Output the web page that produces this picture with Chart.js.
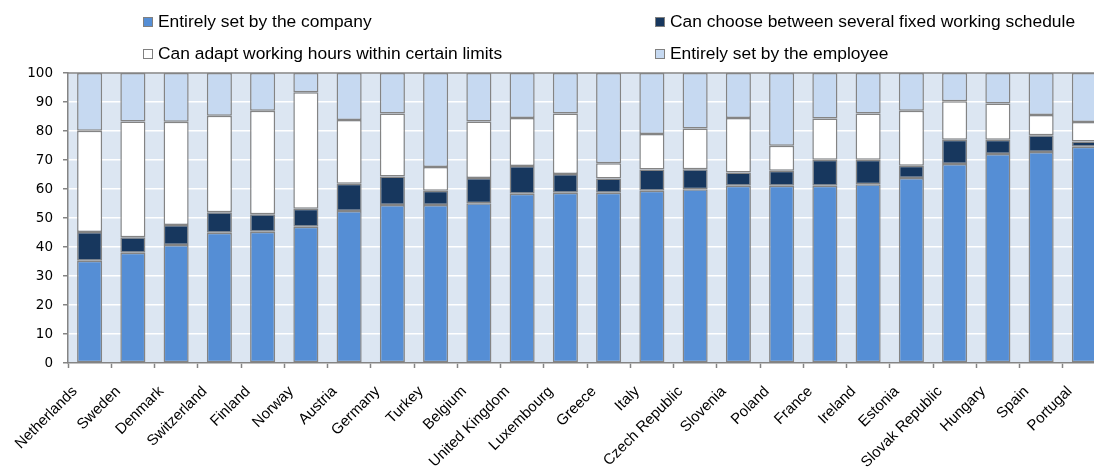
<!DOCTYPE html>
<html>
<head>
<meta charset="utf-8">
<script src="https://cdn.jsdelivr.net/npm/chart.js@4/dist/chart.umd.min.js"></script>
<style>
  html, body { margin: 0; padding: 0; background: #fff; overflow: hidden; width: 1094px; height: 468px; }
  #wrap { position: relative; width: 1108px; height: 468px; }
  #legend { position: absolute; left: 0; top: 0; width: 1094px; height: 70px; font-family: "Liberation Sans", Arial, sans-serif; font-size: 17.4px; color: #000; }
  .item { position: absolute; white-space: nowrap; line-height: 20px; }
  .box { display: inline-block; width: 8px; height: 8px; border: 1px solid #808080; margin-right: 5px; vertical-align: 0px; }
</style>
</head>
<body>
<div id="wrap">
  <canvas id="myChart"></canvas>
  <div id="legend"></div>
</div>
<script>
const countries = ['Netherlands', 'Sweden', 'Denmark', 'Switzerland', 'Finland', 'Norway', 'Austria', 'Germany',
  'Turkey', 'Belgium', 'United Kingdom', 'Luxembourg', 'Greece', 'Italy', 'Czech Republic', 'Slovenia',
  'Poland', 'France', 'Ireland', 'Estonia', 'Slovak Republic', 'Hungary', 'Spain', 'Portugal'];

const seriesNames = ['Entirely set by the company', 'Can choose between several fixed working schedule',
  'Can adapt working hours within certain limits', 'Entirely set by the employee'];

const company  = [35.3, 38.0, 40.7, 44.9, 45.3, 47.0, 52.4, 54.5, 54.5, 55.1, 58.4, 58.7, 58.7, 59.4, 59.9, 61.1, 61.1, 61.1, 61.6, 63.8, 68.6, 72.1, 72.8, 74.6];
const fixed    = [9.9, 5.4, 6.9, 7.1, 6.0, 6.2, 9.4, 9.8, 4.9, 8.7, 9.5, 6.5, 4.9, 7.3, 6.9, 4.6, 5.2, 9.0, 8.5, 4.2, 8.4, 4.9, 5.7, 1.8];
const adapt    = [34.9, 39.9, 35.6, 33.3, 35.7, 40.2, 22.0, 21.7, 8.2, 19.5, 16.6, 20.8, 5.3, 12.3, 14.1, 18.8, 8.6, 14.2, 15.9, 19.0, 13.3, 12.5, 7.0, 6.7];
const employee = [19.9, 16.7, 16.8, 14.7, 13.0, 6.6, 16.2, 14.0, 32.4, 16.7, 15.5, 14.0, 31.1, 21.0, 19.1, 15.5, 25.1, 15.7, 14.0, 13.0, 9.7, 10.5, 14.5, 16.9];

const yTicks = [0, 10, 20, 30, 40, 50, 60, 70, 80, 90, 100];

const colors = ['#558ED5', '#17375E', '#FFFFFF', '#C6D9F1'];
const edge = '#848484';

// legend: two columns, two rows
const legendPos = [[143, 11], [655, 11], [143, 43], [655, 43]];
const legendEl = document.getElementById('legend');
seriesNames.forEach((name, i) => {
  const d = document.createElement('div');
  d.className = 'item';
  d.style.left = legendPos[i][0] + 'px';
  d.style.top = legendPos[i][1] + 'px';
  d.innerHTML = '<span class="box" style="background:' + colors[i] + '"></span>' + name;
  legendEl.appendChild(d);
});

// fond bleu clair de la zone de tracé + trait du haut
const plotBg = {
  id: 'plotBg',
  beforeDraw(chart) {
    const a = chart.chartArea;
    const c = chart.ctx;
    c.save();
    c.fillStyle = '#DCE6F2';
    c.fillRect(a.left, a.top, a.right - a.left, a.bottom - a.top);
    c.restore();
  },
  afterDraw(chart) {
    const a = chart.chartArea;
    const c = chart.ctx;
    c.save();
    c.strokeStyle = edge;
    c.lineWidth = 1.5;
    c.beginPath();
    c.moveTo(a.left, a.top);
    c.lineTo(a.right, a.top);
    c.stroke();
    c.restore();
  }
};

const datasets = [company, fixed, adapt, employee].map((vals, i) => ({
  label: seriesNames[i],
  data: vals,
  backgroundColor: colors[i],
  borderColor: edge,
  borderWidth: 1.5,
  borderSkipped: false,
  categoryPercentage: 1,
  barPercentage: 0.58
}));

const ctx = document.getElementById('myChart').getContext('2d');
const myChart = new Chart(ctx, {
  type: 'bar',
  data: { labels: countries, datasets: datasets },
  options: {
    responsive: true,
    maintainAspectRatio: false,
    animation: false,
    layout: { padding: { top: 73, right: 2, left: 0, bottom: 0 } },
    plugins: {
      legend: { display: false },
      tooltip: { enabled: false }
    },
    scales: {
      x: {
        stacked: true,
        offset: true,
        grid: { display: true, drawOnChartArea: false, offset: true, tickLength: 5, tickColor: edge, tickWidth: 1.5 },
        border: { color: edge, width: 1.5 },
        ticks: {
          autoSkip: false,
          minRotation: 45,
          maxRotation: 45,
          padding: 0,
          color: '#000',
          font: { family: '"Liberation Sans", Arial, sans-serif', size: 15 },
          // trailing spaces push the rotated label down-left like the original
          callback(value) { return countries[value] + '     '; }
        },
        afterFit(scale) { scale.height = 105; }
      },
      y: {
        stacked: true,
        min: 0,
        max: 100,
        afterBuildTicks(scale) { scale.ticks = yTicks.map(v => ({ value: v })); },
        grid: { color: '#FFFFFF', lineWidth: 1.5, tickLength: 5, tickColor: edge, tickWidth: 1.5 },
        border: { color: edge, width: 1.5 },
        ticks: {
          padding: 10,
          color: '#000',
          font: { family: '"DejaVu Sans", Verdana, sans-serif', size: 13.5 }
        },
        afterFit(scale) { scale.width = 68; }
      }
    }
  },
  plugins: [plotBg]
});
</script>
</body>
</html>
